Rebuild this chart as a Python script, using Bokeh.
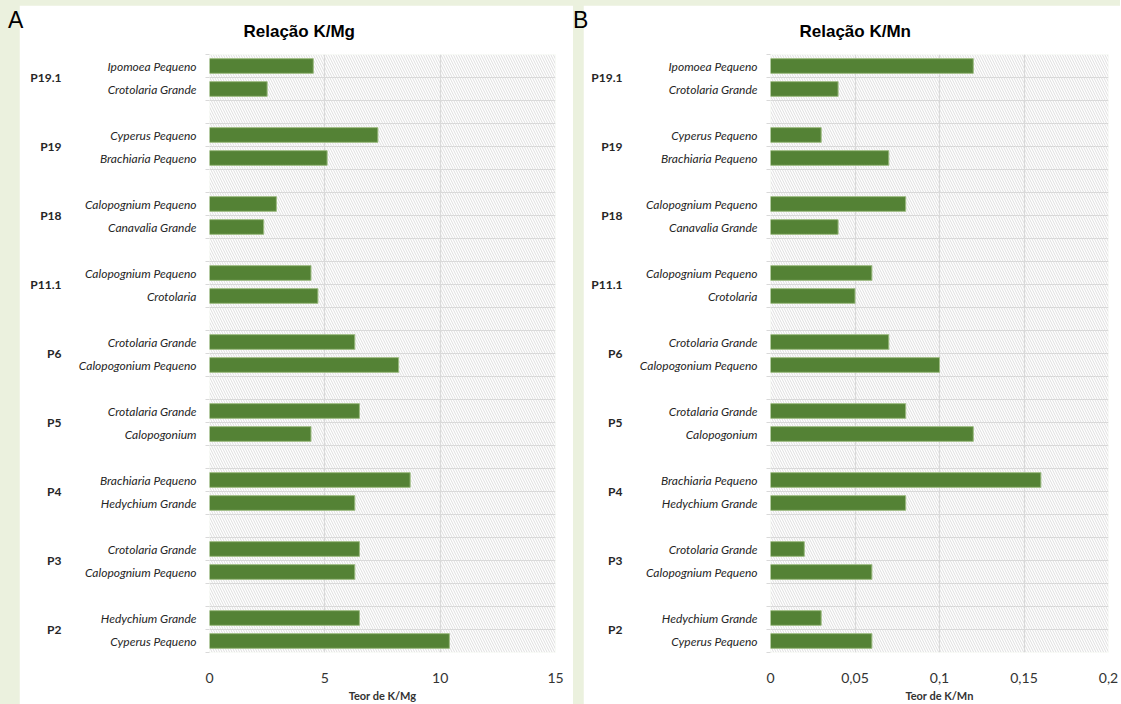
from bokeh.plotting import figure
from bokeh.models import (ColumnDataSource, FixedTicker, BoxAnnotation, LinearAxis,
                          Row, Column, Spacer, Div)
from bokeh.embed import file_html
from bokeh.resources import INLINE

# ---------------- data (top to bottom) ----------------
groups = ["P19.1", "P19", "P18", "P11.1", "P6", "P5", "P4", "P3", "P2"]
species = [
    "Ipomoea Pequeno", "Crotolaria Grande",
    "Cyperus Pequeno", "Brachiaria Pequeno",
    "Calopognium Pequeno", "Canavalia Grande",
    "Calopognium Pequeno", "Crotolaria",
    "Crotolaria Grande", "Calopogonium Pequeno",
    "Crotalaria Grande", "Calopogonium",
    "Brachiaria Pequeno", "Hedychium Grande",
    "Crotolaria Grande", "Calopognium Pequeno",
    "Hedychium Grande", "Cyperus Pequeno",
]
k_mg = [4.5, 2.5, 7.3, 5.1, 2.9, 2.35, 4.4, 4.7, 6.3, 8.2,
        6.5, 4.4, 8.7, 6.3, 6.5, 6.3, 6.5, 10.4]
k_mn = [0.12, 0.04, 0.03, 0.07, 0.08, 0.04, 0.06, 0.05, 0.07, 0.10,
        0.08, 0.12, 0.16, 0.08, 0.02, 0.06, 0.03, 0.06]

ticks_a = [0, 5, 10, 15]
tick_labels_a = ["0", "5", "10", "15"]
ticks_b = [0, 0.05, 0.1, 0.15, 0.2]
tick_labels_b = ["0", "0,05", "0,1", "0,15", "0,2"]

titles = ["Relação K/Mg", "Relação K/Mn"]
xlabels = ["Teor de K/Mg", "Teor de K/Mn"]
panel_letters = ["A", "B"]

# ---------------- layout helpers ----------------
N_SLOTS = 3 * len(groups) - 1  # two bars per group + blank slot between groups
bar_y = []
for i in range(len(species)):
    g, j = divmod(i, 2)
    bar_y.append(N_SLOTS - (3 * g + j) - 0.5)
group_y = [N_SLOTS - 3 * g - 1 for g in range(len(groups))]
boundaries = list(range(N_SLOTS + 1))

GREEN = "#548235"
GRID = "#d9d9d9"
BG = "#EBF1DE"
H = 699


def make_panel(vals, ticks, tick_labels, xmax, title, xlabel,
               width, border_left, border_right, title_offset):
    p = figure(width=width, height=H, output_backend="svg", toolbar_location=None,
               x_range=(0, xmax), y_range=(0, N_SLOTS), tools="")
    p.min_border_left = border_left
    p.min_border_right = border_right
    p.min_border_top = 48
    p.min_border_bottom = 51
    p.outline_line_color = None
    p.background_fill_color = "white"
    p.border_fill_color = "white"

    # title
    p.title.text = title
    p.title.align = "left"
    p.title.offset = title_offset
    p.title.standoff = 28
    p.title.text_font = "Liberation Sans"
    p.title.text_font_style = "bold"
    p.title.text_font_size = "17px"
    p.title.text_color = "#000000"

    # hatched plot area
    p.add_layout(BoxAnnotation(left=0, right=xmax, bottom=0, top=N_SLOTS,
                               fill_color="white", fill_alpha=1.0, line_color=None,
                               hatch_pattern="\\", hatch_color="#d6d6d6",
                               hatch_scale=5, hatch_weight=0.8, level="image"))

    p.xgrid.ticker = FixedTicker(ticks=ticks)
    p.ygrid.ticker = FixedTicker(ticks=boundaries)
    p.grid.grid_line_color = GRID
    p.grid.grid_line_width = 1.2

    src = ColumnDataSource(dict(y=bar_y, v=vals))
    p.hbar(y="y", right="v", left=0, height=0.64, source=src,
           fill_color=GREEN, line_color="#9dbb82", line_width=1)

    # x axis
    xa = p.xaxis[0]
    xa.ticker = FixedTicker(ticks=ticks)
    xa.major_label_overrides = dict(zip(ticks, tick_labels))
    xa.axis_line_color = None
    xa.major_tick_line_color = None
    xa.minor_tick_line_color = None
    xa.major_label_text_font = "Lato"
    xa.major_label_text_font_size = "14px"
    xa.major_label_text_color = "#333333"
    xa.major_label_standoff = 14
    xa.axis_label = xlabel
    xa.axis_label_text_font = "Lato"
    xa.axis_label_text_font_style = "bold"
    xa.axis_label_text_font_size = "11px"
    xa.axis_label_text_color = "#333333"
    xa.axis_label_standoff = 3

    # y axis: species labels at bar centres, separator ticks at slot boundaries
    ya = p.yaxis[0]
    ya.ticker = FixedTicker(ticks=bar_y, minor_ticks=boundaries)
    ya.major_label_overrides = dict(zip(bar_y, species))
    ya.major_label_standoff = 7
    ya.major_label_text_font = "Lato"
    ya.major_label_text_font_style = "italic"
    ya.major_label_text_font_size = "12px"
    ya.major_label_text_color = "#262626"
    ya.axis_line_color = None
    ya.major_tick_line_color = None
    ya.minor_tick_line_color = GRID
    ya.minor_tick_in = 0
    ya.minor_tick_out = 4

    # outer axis: group labels
    ga = LinearAxis(ticker=FixedTicker(ticks=group_y),
                    major_label_overrides=dict(zip(group_y, groups)))
    ga.major_label_standoff = 8
    ga.major_label_text_font = "Lato"
    ga.major_label_text_font_style = "bold"
    ga.major_label_text_font_size = "12px"
    ga.major_label_text_color = "#262626"
    ga.axis_line_color = None
    ga.major_tick_line_color = None
    ga.minor_tick_line_color = None
    p.add_layout(ga, "left")
    return p


def letter_div(letter, width, shift):
    return Div(text=f'<div style="margin-left:{shift}px;margin-top:2px;'
                    f'font-family:\'Liberation Sans\';font-size:23px;line-height:26px;'
                    f'color:#000;">{letter}</div>',
               width=width, height=H, margin=(0, 0, 0, 0),
               styles={"background-color": BG, "overflow": "visible", "z-index": "10"})


pa = make_panel(k_mg, ticks_a, tick_labels_a, 15, titles[0], xlabels[0],
                width=554, border_left=190, border_right=18, title_offset=34)
pb = make_panel(k_mn, ticks_b, tick_labels_b, 0.2, titles[1], xlabels[1],
                width=537, border_left=187, border_right=12, title_offset=29)

row = Row(children=[letter_div(panel_letters[0], 19, 8), pa,
                    letter_div(panel_letters[1], 10, 0), pb],
          spacing=0, styles={"background-color": BG})
layout = Column(children=[Spacer(width=1120, height=5), row], spacing=0,
                styles={"background-color": BG})

open("out.html", "w").write(file_html(layout, INLINE))
